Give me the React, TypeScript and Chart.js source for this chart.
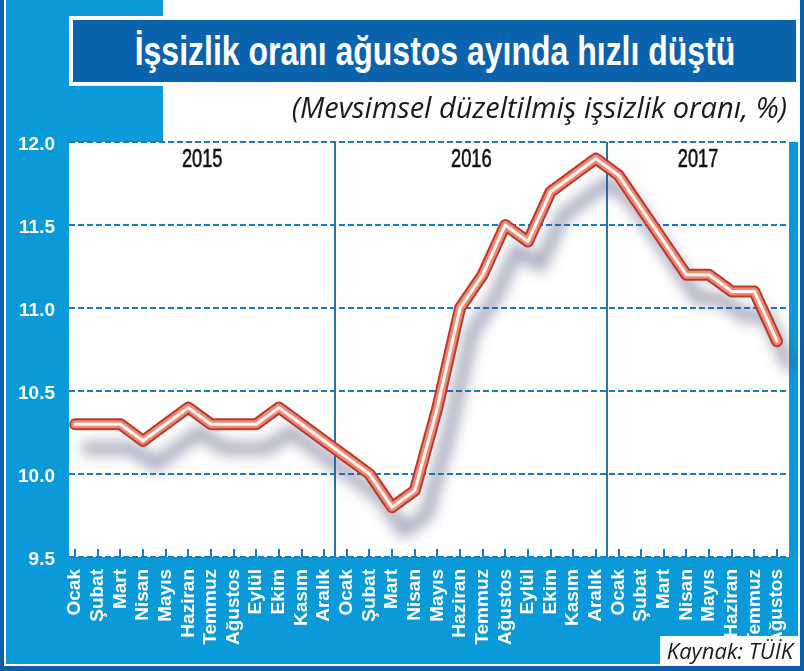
import React, { useEffect, useRef } from 'react'
import { Chart, registerables } from 'chart.js'
Chart.register(...registerables)

const months = ['Ocak', 'Şubat', 'Mart', 'Nisan', 'Mayıs', 'Haziran', 'Temmuz', 'Ağustos', 'Eylül', 'Ekim', 'Kasım', 'Aralık']
const years = ['2015', '2016', '2017']
const monthLabels = [...months, ...months, ...months.slice(0, 8)]

// mevsimsel düzeltilmiş işsizlik oranı, %
const rate2015 = [10.3, 10.3, 10.3, 10.2, 10.3, 10.4, 10.3, 10.3, 10.3, 10.4, 10.3, 10.2]
const rate2016 = [10.1, 10.0, 9.8, 9.9, 10.4, 11.0, 11.2, 11.5, 11.4, 11.7, 11.8, 11.9]
const rate2017 = [11.8, 11.6, 11.4, 11.2, 11.2, 11.1, 11.1, 10.8]
const rates = [...rate2015, ...rate2016, ...rate2017]

const yMin = 9.5
const yMax = 12.0
const yStep = 0.5

const LIGHT = '#0a9ad9'
const DARK = '#0b5ea8'
const GRID = '#1b7cbd'
const SANS = '"Liberation Sans", Arial, sans-serif'

const points = rates.map((y, i) => ({ x: i, y }))

const decor = {
  id: 'decor',
  beforeDraw(chart: any) {
    const { ctx, chartArea: a } = chart
    ctx.save()
    ctx.fillStyle = '#fff'
    ctx.fillRect(a.left, a.top, a.right - a.left, a.bottom - a.top)
    ctx.restore()
  },
  beforeDatasetsDraw(chart: any) {
    const { ctx, chartArea: a } = chart
    const x = chart.scales.x
    ctx.save()
    // year separators
    ctx.strokeStyle = '#1a78ba'
    ctx.lineWidth = 2
    for (let i = 1; i < years.length; i++) {
      const px = Math.round(x.getPixelForValue(i * 12 - 0.5))
      ctx.beginPath()
      ctx.moveTo(px, a.top)
      ctx.lineTo(px, a.bottom)
      ctx.stroke()
    }
    // month ticks along the bottom
    ctx.strokeStyle = GRID
    monthLabels.forEach((_, i) => {
      const px = Math.round(x.getPixelForValue(i))
      ctx.beginPath()
      ctx.moveTo(px, a.bottom - 8)
      ctx.lineTo(px, a.bottom)
      ctx.stroke()
    })
    // year labels, squeezed to look condensed
    ctx.fillStyle = '#111'
    ctx.font = '26px ' + SANS
    ctx.textAlign = 'center'
    ctx.textBaseline = 'middle'
    years.forEach((yr, i) => {
      const start = i === 0 ? a.left : x.getPixelForValue(i * 12 - 0.5)
      const end = i === years.length - 1 ? a.right : x.getPixelForValue((i + 1) * 12 - 0.5)
      ctx.save()
      ctx.translate((start + end) / 2, a.top + 18)
      ctx.scale(0.7, 1)
      ctx.fillText(yr, 0, 0)
      ctx.lineWidth = 0.6
      ctx.strokeStyle = '#111'
      ctx.strokeText(yr, 0, 0)
      ctx.restore()
    })
    ctx.restore()
  },
}

const tubeShadow = {
  id: 'tubeShadow',
  beforeDatasetDraw(chart: any, args: any) {
    if (args.index !== 0) return
    const ctx = chart.ctx
    ctx.save()
    ctx.shadowColor = 'rgba(70,72,115,0.5)'
    ctx.shadowOffsetX = 12
    ctx.shadowOffsetY = 24
    ctx.shadowBlur = 14
  },
  afterDatasetDraw(chart: any, args: any) {
    if (args.index !== 0) return
    chart.ctx.restore()
  },
}

const UnemploymentChart: React.FC = () => {
  const ref = useRef<HTMLCanvasElement | null>(null)
  useEffect(() => {
    if (!ref.current) return
    const ctx = ref.current.getContext('2d')!
    const tube = (color: string, width: number, order: number) => ({
      data: points,
      borderColor: color,
      borderWidth: width,
      borderCapStyle: 'round' as const,
      borderJoinStyle: 'round' as const,
      pointRadius: 0,
      tension: 0,
      fill: false,
      clip: false as const,
      order,
    })
    const chart = new Chart(ctx, {
      type: 'line',
      data: {
        datasets: [
          tube('#bb3a2c', 12, 3),
          tube('#ea8a77', 8, 2),
          tube('#fff6f2', 3, 1),
        ],
      },
      options: {
        responsive: false,
        animation: false,
        layout: { padding: { top: 142, left: 0, right: 12, bottom: 0 } },
        plugins: { legend: { display: false }, tooltip: { enabled: false } },
        scales: {
          x: {
            type: 'linear',
            min: -0.27,
            max: 31.53,
            grid: { display: false },
            border: { display: false },
            afterFit: (s: any) => { s.height = 114 },
            ticks: {
              stepSize: 1,
              maxTicksLimit: 100,
              includeBounds: false,
              autoSkip: false,
              minRotation: 90,
              maxRotation: 90,
              padding: 4,
              color: '#fff',
              font: { family: SANS, size: 19, weight: 'bold' },
              callback: (v: any) => monthLabels[Math.round(Number(v))] ?? '',
            },
          },
          y: {
            min: yMin,
            max: yMax,
            grid: { color: GRID, lineWidth: 2, drawTicks: false },
            border: { display: false, dash: [6, 3] },
            afterFit: (s: any) => { s.width = 69 },
            ticks: {
              stepSize: yStep,
              padding: 14,
              labelOffset: 3,
              color: '#fff',
              font: { family: SANS, size: 19, weight: 'bold' },
              callback: (v: any) => Number(v).toFixed(1),
            },
          },
        },
      },
      plugins: [decor, tubeShadow],
    })
    return () => chart.destroy()
  }, [])
  return <canvas ref={ref} width={804} height={671} style={{ position: 'absolute', left: 0, top: 0 }} />
}

export default function App() {
  return (
    <div style={{ position: 'fixed', left: 0, top: 0, width: 804, height: 671, background: DARK, overflow: 'hidden' }}>
      <div style={{ position: 'absolute', left: 4, top: 0, width: 796, height: 666, background: '#fff' }} />
      <div style={{ position: 'absolute', left: 6, top: 0, width: 792, height: 664, background: LIGHT }} />
      <div style={{ position: 'absolute', left: 163, top: 0, width: 635, height: 142, background: '#fff' }} />
      <UnemploymentChart />
      <div
        style={{
          position: 'absolute', left: 69, top: 16, width: 731, height: 70, boxSizing: 'border-box',
          border: '4px solid #fff', background: '#0b62ad', color: '#fff', overflow: 'hidden',
        }}
      >
        <span
          style={{
            position: 'absolute', left: '50%', top: 0, whiteSpace: 'nowrap',
            transform: 'translateX(-50%) scaleX(0.78)',
            font: 'bold 41px ' + SANS, lineHeight: '62px',
          }}
        >
          İşsizlik oranı ağustos ayında hızlı düştü
        </span>
      </div>
      <div
        style={{
          position: 'absolute', right: 17, top: 87, color: '#1a1a1a', whiteSpace: 'nowrap',
          font: 'italic 29px "Open Sans", sans-serif', lineHeight: '40px',
        }}
      >
        (Mevsimsel düzeltilmiş işsizlik oranı, %)
      </div>
      <div
        style={{
          position: 'absolute', left: 660, top: 636, width: 138, height: 28, background: '#fff',
          color: '#1a1a1a', textAlign: 'right', boxSizing: 'border-box', paddingRight: 5,
          whiteSpace: 'nowrap', font: 'italic 22px "Open Sans", sans-serif', lineHeight: '28px',
        }}
      >
        Kaynak: TÜİK
      </div>
    </div>
  )
}
